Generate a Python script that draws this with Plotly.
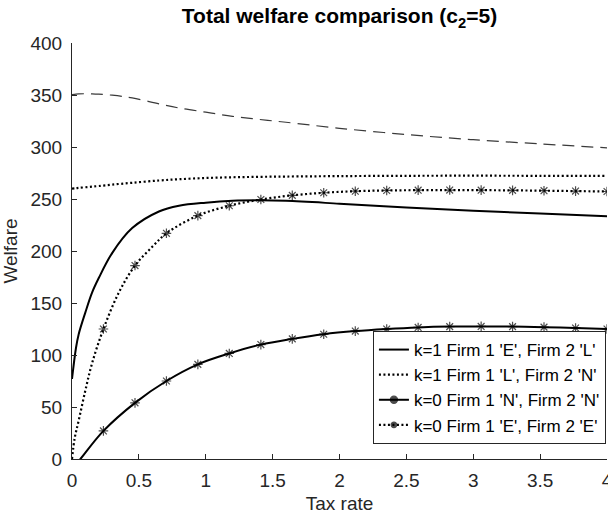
import plotly.graph_objects as go

# ---- data ----
tax_fine = [0, 0.03, 0.05, 0.1, 0.15, 0.2, 0.3, 0.45, 0.65, 0.8, 1.0, 1.2, 1.4, 1.6, 2.0, 2.5, 3.0, 3.5, 4.0]
welfare_k1_EL = [77, 107, 120, 141, 160, 174, 198, 222, 238, 243.5, 246.5, 248.3, 248.7, 248.2, 245.5, 241.8, 238.7, 236, 233.5]
welfare_k1_LN = [260, 260.4, 260.7, 261.3, 261.9, 262.5, 263.8, 265.6, 267.8, 269.0, 270.2, 270.9, 271.3, 271.6, 272.0, 272.3, 272.4, 272.3, 272.2]
welfare_ref = [350.3, 350.8, 351, 351.2, 351.1, 350.8, 349.8, 347.2, 341.5, 337.5, 333.5, 329.5, 326.5, 323.8, 318, 312, 307, 303, 299.2]

tax_marker = [0, 0.235, 0.471, 0.706, 0.941, 1.176, 1.412, 1.647, 1.882, 2.118,
              2.353, 2.588, 2.824, 3.059, 3.294, 3.529, 3.765, 4.0]

tax_k0_NN = [0, 0.063, 0.235, 0.471, 0.706, 0.941, 1.176, 1.412, 1.647, 1.882, 2.118,
             2.353, 2.588, 2.824, 3.059, 3.294, 3.529, 3.765, 4.0]
welfare_k0_NN = [-10, 0, 27, 54, 75, 91, 101.5, 110, 115.5, 120, 123,
                 125, 126.5, 127.3, 127.5, 127.3, 126.8, 126, 125]

tax_k0_EE = [0, 0.02, 0.05, 0.1, 0.15, 0.235, 0.35, 0.471, 0.6, 0.706, 0.941, 1.176, 1.412, 1.647,
             1.882, 2.118, 2.353, 2.588, 2.824, 3.059, 3.294, 3.529, 3.765, 4.0]
welfare_k0_EE = [0, 20, 37, 66, 92, 125, 160, 186, 204, 217, 234, 243.5, 249.5, 253.5,
                 256, 257.5, 258.2, 258.5, 258.6, 258.5, 258.3, 258, 257.6, 257.2]

labels = ["k=1 Firm 1 'E', Firm 2 'L'", "k=1 Firm 1 'L', Firm 2 'N'",
          "k=0 Firm 1 'N', Firm 2 'N'", "k=0 Firm 1 'E', Firm 2 'E'"]
x_ticks = [0, 0.5, 1, 1.5, 2, 2.5, 3, 3.5, 4]
y_ticks = [0, 50, 100, 150, 200, 250, 300, 350, 400]

AX = '#262626'
FONT = 'Liberation Sans, Arial, Helvetica, sans-serif'


def marker_style(xs):
    symbols, sizes = [], []
    for i, xv in enumerate(xs):
        is_m = any(abs(xv - m) < 1e-6 for m in tax_marker)
        if i == 0:
            symbols.append('circle')
            sizes.append(0)
        elif is_m:
            symbols.append('asterisk-open')
            sizes.append(8)
        else:
            symbols.append('asterisk-open')
            sizes.append(0)
    return dict(symbol=symbols, size=sizes, color='black',
                line=dict(color='black', width=1.2))


fig = go.Figure()

fig.add_trace(go.Scatter(x=tax_fine, y=welfare_ref, mode='lines', showlegend=False,
                         line=dict(color='#3a3a3a', width=1.2, dash='12px,7px', shape='spline')))
fig.add_trace(go.Scatter(x=tax_fine, y=welfare_k1_EL, mode='lines', name=labels[0],
                         line=dict(color='black', width=2, shape='spline')))
fig.add_trace(go.Scatter(x=tax_fine, y=welfare_k1_LN, mode='lines', name=labels[1],
                         line=dict(color='black', width=2.2, dash='2px,2.5px', shape='spline')))
fig.add_trace(go.Scatter(x=tax_k0_NN, y=welfare_k0_NN, mode='lines+markers', name=labels[2],
                         line=dict(color='black', width=2, shape='spline'),
                         marker=marker_style(tax_k0_NN)))
fig.add_trace(go.Scatter(x=tax_k0_EE, y=welfare_k0_EE, mode='lines+markers', name=labels[3],
                         line=dict(color='black', width=2.2, dash='2px,2.5px', shape='spline'),
                         marker=marker_style(tax_k0_EE)))

fig.update_layout(
    template='none',
    width=608, height=516,
    margin=dict(l=72, r=1, t=43, b=57),
    paper_bgcolor='white', plot_bgcolor='white',
    font=dict(family=FONT, size=19, color=AX),
    title=dict(text='<b>Total welfare comparison (c<sub>2</sub>=5)</b>',
               x=0.5, xref='paper', xanchor='center',
               y=1 - 16 / 516, yref='container', yanchor='middle',
               font=dict(family=FONT, size=21, color='black')),
    showlegend=True,
    legend=dict(x=0.998, y=0.036, xanchor='right', yanchor='bottom',
                bgcolor='white', bordercolor=AX, borderwidth=1,
                font=dict(family=FONT, size=17, color='black'),
                tracegroupgap=0, itemwidth=30),
)
fig.update_xaxes(range=[0, 4], tickvals=x_ticks, ticktext=[f'{v:g}' for v in x_ticks],
                 ticks='inside', ticklen=5, tickcolor=AX, tickwidth=1,
                 showline=True, linecolor=AX, linewidth=1, showgrid=False, zeroline=False,
                 mirror=False, automargin=False, ticklabelstandoff=4,
                 ticklabeloverflow='allow',
                 title=dict(text='Tax rate', font=dict(size=19, color=AX), standoff=6))
fig.update_yaxes(range=[0, 400], tickvals=y_ticks, ticktext=[str(v) for v in y_ticks],
                 ticks='inside', ticklen=5, tickcolor=AX, tickwidth=1,
                 showline=True, linecolor=AX, linewidth=1, showgrid=False, zeroline=False,
                 mirror=False, automargin=False, ticklabelstandoff=5,
                 title=dict(text='Welfare', font=dict(size=19, color=AX), standoff=8))

fig.write_html('out.html',
               config={'displayModeBar': False},
               post_script="document.body.style.margin='0';document.body.style.padding='0';"
                           "document.body.style.overflow='hidden';")
